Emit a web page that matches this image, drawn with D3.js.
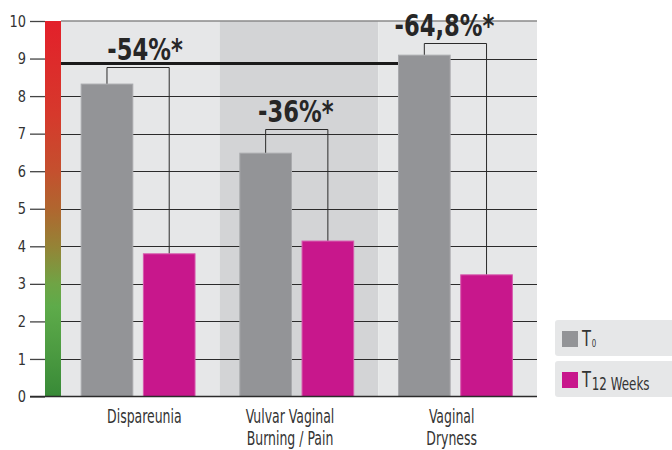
<!DOCTYPE html>
<html>
<head>
<meta charset="utf-8">
<script src="https://cdn.jsdelivr.net/npm/d3@7"></script>
<style>
  body { margin: 0; background: #fff; }
  text { font-family: "DejaVu Sans Condensed", "DejaVu Sans", sans-serif; fill: #333; }
</style>
</head>
<body>
<div id="chart"></div>
<script>
// Data
const categories = ["Dispareunia", "Vulvar Vaginal\nBurning / Pain", "Vaginal\nDryness"];
const series = ["T0", "T12"];
const t0Values = [8.32, 6.48, 9.09];
const t12Values = [3.80, 4.14, 3.24];
const changeLabels = ["-54%*", "-36%*", "-64,8%*"];
const bracketLevels = [8.78, 7.12, 9.41];   // height of the bracket over each pair
const referenceLevel = 8.87;                  // thick black line
const yTicks = [0, 1, 2, 3, 4, 5, 6, 7, 8, 9, 10];

const width = 672, height = 450;
const plotLeft = 61, plotRight = 537;
// small horizontal nudges of the texts, as in the original artwork
const catLabelShift = [4, -9, -6];
const changeLabelShift = [7, -1, -11];

const svg = d3.select("#chart")
    .append("svg")
    .attr("width", width)
    .attr("height", height);

// condensed text: scale horizontally around its anchor
function squeeze(sel, cx, cy, sx) {
    sel.attr("transform", "translate(" + cx + "," + cy + ") scale(" + sx + ",1)");
}

// Scales
const y = d3.scaleLinear().domain([0, 10]).range([396.5, 21]);

const x0 = d3.scaleBand()
    .domain(categories)
    .range([plotLeft, plotRight]);

const x1 = d3.scaleBand()
    .domain(series)
    .range([0, x0.bandwidth()])
    .paddingInner(0.17)
    .paddingOuter(0.36)
    .align(0.45);

const colors = { T0: "#939497", T12: "#c8178c" };
const bandFill = ["#e6e7e8", "#d3d4d6", "#e6e7e8"];

// Background bands
svg.selectAll(".band")
    .data(categories)
    .enter()
    .append("rect")
    .attr("x", d => x0(d))
    .attr("y", y(10))
    .attr("width", x0.bandwidth())
    .attr("height", y(0) - y(10))
    .attr("fill", (d, i) => bandFill[i]);

// Gridlines (9 only shows on the right of the last grey bar)
const lastBarRight = x0(categories[2]) + x1("T0");
svg.selectAll(".grid")
    .data(yTicks.filter(t => t > 0 && t < 10))
    .enter()
    .append("line")
    .attr("x1", d => d === 9 ? lastBarRight : plotLeft)
    .attr("x2", plotRight)
    .attr("y1", d => Math.round(y(d)) + 0.5)
    .attr("y2", d => Math.round(y(d)) + 0.5)
    .attr("stroke", "#2b2b2b")
    .attr("stroke-width", 1);

// Top border
svg.append("line")
    .attr("x1", plotLeft).attr("x2", plotRight)
    .attr("y1", y(10)).attr("y2", y(10))
    .attr("stroke", "#8a8a8a").attr("stroke-width", 1.5);

// Thick reference line
svg.append("line")
    .attr("x1", plotLeft).attr("x2", lastBarRight)
    .attr("y1", y(referenceLevel)).attr("y2", y(referenceLevel))
    .attr("stroke", "#1a1a1a").attr("stroke-width", 3);

// Brackets
categories.forEach((c, i) => {
    const xa = x0(c) + x1("T0") + x1.bandwidth() / 2;
    const xb = x0(c) + x1("T12") + x1.bandwidth() / 2;
    const top = Math.round(y(bracketLevels[i])) + 0.5;
    svg.append("path")
        .attr("d", `M${xa},${y(t0Values[i])}V${top}H${xb}V${y(t12Values[i])}`)
        .attr("fill", "none")
        .attr("stroke", "#2b2b2b")
        .attr("stroke-width", 1);
});

// Bars
const rows = categories.map((c, i) => ({ cat: c, T0: t0Values[i], T12: t12Values[i] }));
const groups = svg.selectAll(".group")
    .data(rows)
    .enter()
    .append("g")
    .attr("transform", d => "translate(" + x0(d.cat) + ",0)");

groups.selectAll("rect")
    .data(d => series.map(s => ({ s: s, v: d[s] })))
    .enter()
    .append("rect")
    .attr("x", d => x1(d.s))
    .attr("y", d => y(d.v))
    .attr("width", x1.bandwidth())
    .attr("height", d => y(0) - y(d.v))
    .attr("fill", d => colors[d.s])
    .attr("stroke", d => d.s === "T0" ? "#a9aaad" : "#d75aae")
    .attr("stroke-width", 1);

// Change labels
categories.forEach((c, i) => {
    const xa = x0(c) + x1("T0") + x1.bandwidth() / 2;
    const xb = x0(c) + x1("T12") + x1.bandwidth() / 2;
    svg.append("text")
        .attr("text-anchor", "middle")
        .attr("font-size", 30)
        .attr("font-weight", "bold")
        .style("fill", "#262626")
        .text(changeLabels[i])
        .call(squeeze, (xa + xb) / 2 + changeLabelShift[i], y(bracketLevels[i]) - 7, 0.84);
});

// Colour scale bar
const defs = svg.append("defs");
const grad = defs.append("linearGradient")
    .attr("id", "scaleGrad")
    .attr("x1", 0).attr("y1", 0).attr("x2", 0).attr("y2", 1);
[["0%", "#e3202a"], ["25%", "#d6392c"], ["40%", "#c4502e"], ["50%", "#b0662f"],
 ["60%", "#958336"], ["70%", "#6fa445"], ["76%", "#5eab4a"], ["88%", "#4c9b41"], ["100%", "#388a37"]]
    .forEach(s => grad.append("stop").attr("offset", s[0]).attr("stop-color", s[1]));

svg.append("rect")
    .attr("x", 45).attr("y", y(10))
    .attr("width", plotLeft - 45)
    .attr("height", y(0) - y(10))
    .attr("fill", "url(#scaleGrad)");

// Y axis
const yAxis = svg.append("g")
    .attr("transform", "translate(45,0)")
    .call(d3.axisLeft(y).tickValues(yTicks).tickSize(15).tickPadding(4).tickFormat(d3.format("d")));
yAxis.select(".domain").remove();
yAxis.selectAll("line").attr("stroke", "#444").attr("stroke-width", 1.3);
yAxis.selectAll("text")
    .attr("font-size", 16)
    .style("fill", "#333")
    .each(function () {
        const t = d3.select(this);
        const tx = +t.attr("x");
        t.attr("x", 0).attr("transform", "translate(" + tx + ",0) scale(0.9,1)");
    });

// Baseline
svg.append("line")
    .attr("x1", 30).attr("x2", plotRight)
    .attr("y1", y(0)).attr("y2", y(0))
    .attr("stroke", "#2b2b2b").attr("stroke-width", 1.5);

// Category labels
categories.forEach((c, i) => {
    const t = svg.append("text")
        .attr("text-anchor", "middle")
        .attr("font-size", 19)
        .call(squeeze, x0(c) + x0.bandwidth() / 2 + catLabelShift[i], 423, 0.73);
    c.split("\n").forEach((line, k) => {
        t.append("tspan")
            .attr("x", 0)
            .attr("dy", k === 0 ? 0 : 22)
            .text(line);
    });
});

// Legend
const legend = svg.append("g").attr("transform", "translate(555,320)");
series.forEach((s, i) => {
    const g = legend.append("g").attr("transform", "translate(0," + i * 41 + ")");
    g.append("rect").attr("width", 125).attr("height", 36).attr("rx", 3).attr("fill", "#e6e7e8");
    g.append("rect").attr("x", 7).attr("y", 11).attr("width", 16).attr("height", 16).attr("fill", colors[s]);
    const t = g.append("text")
        .attr("font-size", 21)
        .call(squeeze, 27, 26, 0.78);
    t.append("tspan").text("T");
    t.append("tspan")
        .attr("font-size", i === 0 ? 10 : 17)
        .attr("dy", i === 0 ? 0.5 : 2.5)
        .attr("dx", 1)
        .text(i === 0 ? "0" : "12 Weeks");
});
</script>
</body>
</html>
